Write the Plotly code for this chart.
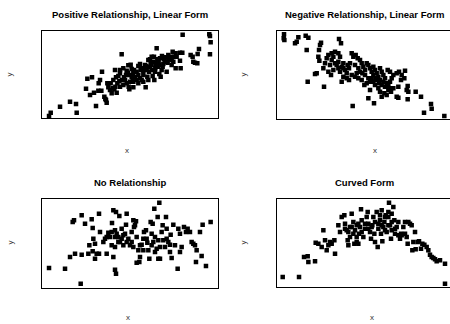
import plotly.graph_objects as go

# Panel 1: Positive Relationship, Linear Form
p1_x = [147,152,180,210,228,230,288,258,270,282,262,276,306,300,296,295,304,313,318,320,316,322,332,325,330,338,346,350,340,348,355,360,365,352,358,366,372,378,380,385,392,395,386,388,400,398,405,410,402,415,420,422,425,430,432,438,437,442,447,450,452,455,458,463,466,470,470,474,476,478,482,485,486,490,495,500,503,505,510,515,518,522,527,530,527,540,542,547,540,548,572,578,580,585,592,593,597,628,630,632,630,
        345,360,370,375,384,390,395,400,410,415,420,425,430,435,440,445,450,455,460,462,465,468,472,478,480,488,492,498,505,512,515,520,455,445,430,415,400,390,380,370,360,343,335]
p1_y = [7,17,35,50,43,17,37,89,70,77,119,123,140,115,105,83,83,65,55,47,58,105,105,93,85,90,95,77,115,123,127,135,192,105,111,115,123,130,143,159,161,148,95,87,93,115,123,140,145,157,163,145,115,130,150,157,93,125,140,155,167,185,127,115,150,167,210,155,172,133,125,145,187,163,170,140,167,190,180,175,200,185,195,185,150,197,150,197,173,251,190,185,170,167,165,193,208,252,247,228,192,
        145,145,150,115,137,130,125,135,115,130,120,150,143,160,145,175,177,160,170,185,140,160,177,160,180,155,177,183,177,185,160,170,145,115,110,105,110,110,105,100,95,87,75]

# Panel 2: Negative Relationship, Linear Form
p2_x = [177,176,178,210,215,220,242,250,245,285,288,282,280,283,342,348,305,310,320,330,340,345,300,295,310,318,325,335,340,350,355,360,365,372,380,385,392,398,405,410,415,420,425,430,435,440,445,450,455,460,465,470,475,480,488,495,500,505,515,522,530,540,538,548,545,550,548,528,520,515,520,505,498,490,485,478,470,465,460,450,445,435,430,447,383,270,275,248,297,350,355,365,372,380,390,395,400,410,418,425,435,440,455,462,470,480,490,498,572,588,618,620,597,658,
        320,325,330,315,340,345,355,368,375,390,400,405,412,420,430,445,452,465,475,485,495]
p2_y = [254,242,237,227,232,245,250,244,207,222,229,207,187,175,240,227,182,192,197,202,197,187,167,152,142,132,147,162,172,157,167,147,137,152,197,187,192,182,177,167,157,147,167,162,152,142,157,147,137,127,152,142,132,122,147,142,122,132,137,142,132,145,122,99,87,82,59,117,97,67,64,92,82,87,72,77,67,82,92,102,112,87,62,47,39,135,137,112,97,112,127,122,117,132,127,137,122,117,102,107,112,122,117,107,102,97,99,92,82,67,45,31,19,9,
        177,187,167,162,152,142,152,162,167,162,152,142,137,132,122,132,122,117,112,107,112]

# Panel 3: No Relationship
p3_x = [147,195,242,210,225,245,265,268,278,285,290,297,320,340,345,348,218,222,245,255,275,278,280,285,297,300,310,315,320,325,330,335,340,348,336,345,350,355,358,365,370,378,380,385,390,395,400,402,405,408,410,415,418,410,420,425,430,432,438,442,445,448,452,455,458,460,463,465,470,473,475,478,480,485,488,490,495,498,500,505,510,512,515,520,525,533,535,540,545,540,552,558,563,570,575,580,585,590,600,608,588,605,618,632,
        335,345,360,370,375,380,395,400,420,430,440,455,465,475,480,500,510,345,355,365]
p3_y = [59,57,12,92,102,99,102,127,109,87,102,102,102,92,54,42,197,202,217,192,205,179,147,132,222,167,137,147,152,165,152,167,232,227,194,172,162,137,215,177,157,189,222,147,127,167,202,182,187,199,152,112,77,75,92,129,147,167,172,135,112,87,197,162,192,137,237,107,117,212,87,255,87,167,187,142,122,212,177,137,107,159,89,189,127,57,177,162,122,107,182,167,177,167,137,132,127,112,167,189,77,95,65,197,
        127,122,137,127,162,137,137,122,127,112,147,127,152,142,122,147,129,152,152,147]

# Panel 4: Curved Form
p4_x = [173,222,660,237,248,250,270,272,280,290,295,300,305,310,315,320,328,330,340,345,350,358,360,365,368,370,375,380,385,388,395,400,402,405,408,410,415,420,425,428,430,435,438,442,448,450,455,458,460,465,468,470,472,475,478,482,485,490,492,495,498,500,505,508,510,515,520,525,528,535,540,545,548,550,555,560,562,565,570,572,578,582,588,592,598,605,610,615,620,625,630,635,645,660,
        360,370,380,390,395,400,410,420,430,440,450,460,470,480,490,500,510,520,530,540,385,375,395,445,465,480,490,500]
p4_y = [30,30,10,90,92,75,77,133,130,120,170,140,110,125,135,130,140,100,185,165,210,215,190,170,140,125,150,220,195,130,135,130,160,180,233,200,150,175,210,225,190,165,145,185,160,135,225,120,175,200,160,230,137,180,195,215,165,210,253,185,145,220,240,200,175,180,195,145,160,180,195,150,130,195,190,185,110,135,165,113,135,137,115,130,127,120,110,97,90,87,83,77,80,70,
        175,165,180,170,185,190,165,190,175,180,195,190,185,170,185,170,160,155,155,160,160,180,150,210,215,210,225,195]

titles = ["Positive Relationship, Linear Form", "Negative Relationship, Linear Form",
          "No Relationship", "Curved Form"]
x_label = "x"
y_label = "y"

W, H = 450, 324
fig = go.Figure()

panels = [
    (p1_x, p1_y, "x", "y"),
    (p2_x, p2_y, "x2", "y2"),
    (p3_x, p3_y, "x3", "y3"),
    (p4_x, p4_y, "x4", "y4"),
]
for xs, ys, xa, ya in panels:
    fig.add_trace(go.Scatter(x=xs, y=ys, xaxis=xa, yaxis=ya, mode="markers",
                             marker=dict(symbol="square", size=4.5, color="black",
                                         line=dict(width=0)),
                             showlegend=False, hoverinfo="skip"))

def px(v):
    return v / W

def py(v):
    return 1 - v / H

ax_common = dict(showgrid=False, zeroline=False, showticklabels=False, ticks="",
                 showline=True, linecolor="black", linewidth=1)

xdom_l = [px(41.7), px(218.3)]
xdom_r = [px(276.7), 1.0]
fig.update_layout(
    width=W, height=H, margin=dict(l=0, r=0, t=0, b=0),
    paper_bgcolor="white", plot_bgcolor="white",
    font=dict(family="Liberation Sans, Arial, sans-serif", color="black"),
    xaxis=dict(domain=xdom_l, range=[125, 655], anchor="y", mirror=True, **ax_common),
    yaxis=dict(domain=[py(118.3), py(31)], range=[0, 262], anchor="x", mirror=True, **ax_common),
    xaxis2=dict(domain=xdom_r, range=[155, 675], anchor="y2", mirror=True, **ax_common),
    yaxis2=dict(domain=[py(119), py(31)], range=[0, 264], anchor="x2", mirror=False, **ax_common),
    xaxis3=dict(domain=xdom_l, range=[125, 655], anchor="y3", mirror=True, **ax_common),
    yaxis3=dict(domain=[py(287.7), py(199.3)], range=[0, 265], anchor="x3", mirror=True, **ax_common),
    xaxis4=dict(domain=xdom_r, range=[155, 675], anchor="y4", mirror=True, **ax_common),
    yaxis4=dict(domain=[py(287), py(199.3)], range=[0, 263], anchor="x4", mirror=False, **ax_common),
)

title_pos = [(130, 15), (364, 15), (130, 182.5), (364, 182)]
xlab_pos = [(127, 150), (375, 150), (128, 317), (372, 317)]
ylab_pos = [(8.5, 75), (242.5, 75), (9.5, 243), (242.5, 243)]

anns = []
for t, (tx, ty) in zip(titles, title_pos):
    anns.append(dict(text="<b>" + t + "</b>", x=px(tx), y=py(ty), xref="paper", yref="paper",
                     showarrow=False, xanchor="center", yanchor="middle",
                     font=dict(size=9.5, color="black")))
for (lx, ly) in xlab_pos:
    anns.append(dict(text=x_label, x=px(lx), y=py(ly), xref="paper", yref="paper",
                     showarrow=False, xanchor="center", yanchor="middle",
                     font=dict(size=8, color="#333333")))
for (lx, ly) in ylab_pos:
    anns.append(dict(text=y_label, x=px(lx), y=py(ly), xref="paper", yref="paper",
                     showarrow=False, xanchor="center", yanchor="middle", textangle=-90,
                     font=dict(size=8, color="#333333")))
fig.update_layout(annotations=anns)

fig.write_html("out.html", config={"displayModeBar": False},
               post_script="document.body.style.margin='0';document.body.style.overflow='hidden';")
